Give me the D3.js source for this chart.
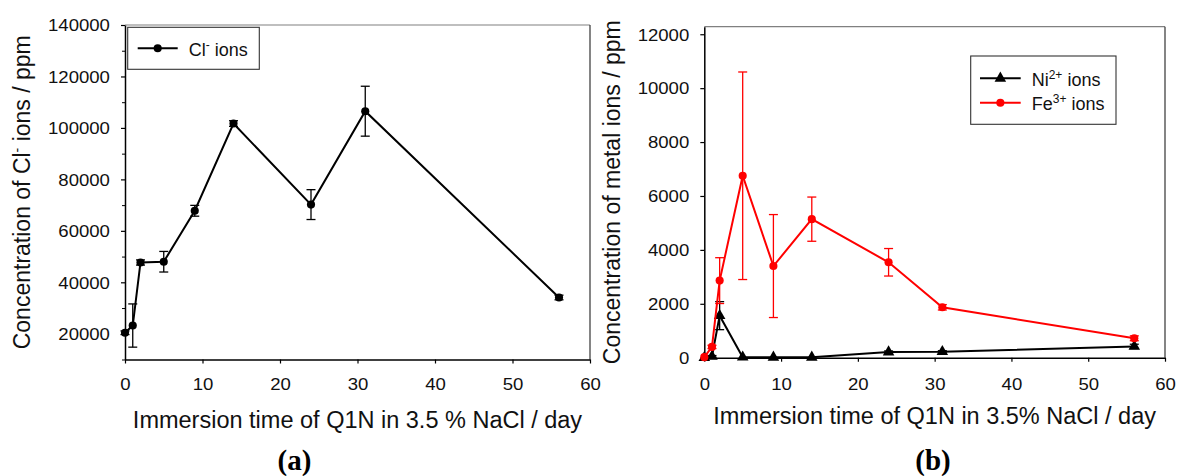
<!DOCTYPE html>
<html>
<head>
<meta charset="utf-8">
<script src="https://cdn.jsdelivr.net/npm/d3@7"></script>
<style>
  body { margin: 0; background: #fff; }
  svg { display: block; font-family: "Liberation Sans", Arial, sans-serif; }
</style>
</head>
<body>
<svg id="chart" width="1177" height="476"></svg>
<script>
// immersion days (shared by both panels)
const days = [0, 1, 2, 5, 9, 14, 24, 31, 56];

// (a) chloride ions, ppm
const clValues = [20400, 23200, 47700, 48000, 67800, 101700, 70200, 106500, 34100];
const clErrors = [700, 8400, 1000, 4000, 2100, 1100, 5800, 9700, 900];

// (b) metal ions, ppm
const niValues = [0, 50, 1560, 20, 15, 15, 210, 220, 420];
const niErrors = [0, 30, 520, 0, 0, 0, 40, 40, 80];
const feValues = [20, 400, 2860, 6750, 3400, 5140, 3540, 1870, 720];
const feErrors = [0, 60, 850, 3850, 1910, 820, 510, 100, 90];

const xTicks = [0, 10, 20, 30, 40, 50, 60];
const clTicks = [20000, 40000, 60000, 80000, 100000, 120000, 140000];
const clMinor = [10000, 30000, 50000, 70000, 90000, 110000, 130000];
const metalTicks = [0, 2000, 4000, 6000, 8000, 10000, 12000];

const svg = d3.select("#chart");
const STRETCH = 1.16; // tick labels in the source are a bit wide

const zip = (vals, errs) => days.map((d, i) => ({x: d, y: vals[i], e: errs[i]}));

function drawPanel(p) {
  let x = d3.scaleLinear().domain([0, 60]).range([p.left, p.right]),
      y = d3.scaleLinear().domain(p.yDomain).range([p.bottom, p.top]);

  let g = svg.append("g");

  // frame: top + right are light
  g.append("line").attr("x1", p.left).attr("x2", p.right).attr("y1", p.top).attr("y2", p.top)
    .attr("stroke", "#808080").attr("stroke-width", 1.2);
  g.append("line").attr("x1", p.right).attr("x2", p.right).attr("y1", p.top).attr("y2", p.bottom)
    .attr("stroke", "#333").attr("stroke-width", 1.2);

  // axes
  let xAxis = g.append("g")
    .attr("transform", `translate(0,${p.bottom})`)
    .call(d3.axisBottom(x).tickValues(xTicks).tickFormat(d3.format("d"))
      .tickSize(4).tickPadding(p.xPad).tickSizeOuter(0));
  let yAxis = g.append("g")
    .attr("transform", `translate(${p.left},0)`)
    .call(d3.axisLeft(y).tickValues(p.yTicks).tickFormat(d3.format("d"))
      .tickSize(4).tickPadding(9).tickSizeOuter(0));
  if (p.yMinor) {
    g.append("g")
      .attr("transform", `translate(${p.left},0)`)
      .call(d3.axisLeft(y).tickValues(p.yMinor).tickSize(3).tickFormat("").tickSizeOuter(0))
      .call(a => a.selectAll(".tick line").attr("stroke", "#000"))
      .select(".domain").remove();
  }
  [xAxis, yAxis].forEach(a => {
    a.select(".domain").attr("stroke", "#000").attr("stroke-width", 1.5);
    a.selectAll(".tick line").attr("stroke", "#000").attr("stroke-width", 1.2);
    a.selectAll(".tick text")
      .attr("font-size", 16)
      .attr("fill", "#111")
      .attr("font-family", "Liberation Sans, Arial, sans-serif")
      .attr("transform", `scale(${STRETCH},1)`);
  });
  yAxis.selectAll(".tick text").attr("dy", "0.36em");

  let line = d3.line().x(d => x(d.x)).y(d => y(d.y));

  p.series.forEach(s => {
    let data = zip(s.values, s.errors);

    // error bars
    let eb = g.append("g").attr("stroke", s.color).attr("stroke-width", 1.3);
    data.filter(d => d.e > 0).forEach(d => {
      let cx = x(d.x), y0 = y(d.y - d.e), y1 = y(d.y + d.e);
      eb.append("line").attr("x1", cx).attr("x2", cx).attr("y1", y0).attr("y2", y1);
      eb.append("line").attr("x1", cx - 4.5).attr("x2", cx + 4.5).attr("y1", y0).attr("y2", y0);
      eb.append("line").attr("x1", cx - 4.5).attr("x2", cx + 4.5).attr("y1", y1).attr("y2", y1);
    });

    g.append("path").datum(data)
      .attr("d", line)
      .attr("fill", "none")
      .attr("stroke", s.color)
      .attr("stroke-width", 2);

    let sym = d3.symbol().type(s.shape).size(s.shape === d3.symbolCircle ? 52 : 58);
    g.selectAll(null).data(data).enter().append("path")
      .attr("d", sym)
      .attr("transform", d => `translate(${x(d.x)},${y(d.y)})`)
      .attr("fill", s.color);
  });

  // axis titles
  let yt = g.append("text")
    .attr("transform", `translate(${p.yTitleX},${(p.top + p.bottom) / 2}) rotate(-90)`)
    .attr("text-anchor", "middle")
    .attr("font-size", 23)
    .attr("fill", "#111");
  p.yTitle.forEach(part => {
    let t = yt.append("tspan").text(part.t);
    if (part.sup) t.attr("font-size", 14).attr("baseline-shift", "super");
  });

  g.append("text")
    .attr("x", (p.left + p.right) / 2)
    .attr("y", p.xTitleY)
    .attr("text-anchor", "middle")
    .attr("font-size", 23.5)
    .attr("fill", "#111")
    .text(p.xTitle);

  g.append("text")
    .attr("x", p.labelX)
    .attr("y", 470)
    .attr("text-anchor", "middle")
    .attr("font-family", "Liberation Serif, Times New Roman, serif")
    .attr("font-weight", "bold")
    .attr("font-size", 29)
    .text(p.label);

  // legend
  let lg = p.legend;
  g.append("rect")
    .attr("x", lg.x).attr("y", lg.y).attr("width", lg.w).attr("height", lg.h)
    .attr("fill", "#fff").attr("stroke", "#333").attr("stroke-width", 1.1);
  p.series.forEach((s, i) => {
    let ly = lg.y + lg.first + i * lg.step;
    g.append("line")
      .attr("x1", lg.x + lg.lineX0).attr("x2", lg.x + lg.lineX1)
      .attr("y1", ly).attr("y2", ly)
      .attr("stroke", s.color).attr("stroke-width", 2);
    g.append("path")
      .attr("d", d3.symbol().type(s.shape).size(s.shape === d3.symbolCircle ? 52 : 58))
      .attr("transform", `translate(${lg.x + (lg.lineX0 + lg.lineX1) / 2},${ly})`)
      .attr("fill", s.color);
    let t = g.append("text")
      .attr("x", lg.x + lg.textX)
      .attr("y", ly + 7.5)
      .attr("font-size", 18)
      .attr("fill", "#111");
    s.label.forEach(part => {
      let ts = t.append("tspan").text(part.t);
      if (part.sup) ts.attr("font-size", 12).attr("baseline-shift", "super");
    });
  });
}

drawPanel({
  left: 125, right: 590, top: 25, bottom: 359.5,
  yDomain: [10000, 140000], yTicks: clTicks, yMinor: clMinor,
  xPad: 15,
  yTitleX: 30,
  yTitle: [{t: "Concentration of Cl"}, {t: "-", sup: true}, {t: " ions / ppm"}],
  xTitle: "Immersion time of Q1N in 3.5 % NaCl / day", xTitleY: 428,
  label: "(a)", labelX: 294.5,
  legend: {x: 127.7, y: 27.3, w: 131.6, h: 42, first: 21, step: 0, lineX0: 10, lineX1: 50, textX: 61},
  series: [
    {values: clValues, errors: clErrors, color: "#000", shape: d3.symbolCircle,
     label: [{t: "Cl"}, {t: "-", sup: true}, {t: " ions"}]}
  ]
});

drawPanel({
  left: 704.3, right: 1165, top: 26.7, bottom: 357.7,
  yDomain: [0, 12280], yTicks: metalTicks, yMinor: null,
  xPad: 17,
  yTitleX: 620,
  yTitle: [{t: "Concentration of metal ions / ppm"}],
  xTitle: "Immersion time of Q1N in 3.5% NaCl / day", xTitleY: 424,
  label: "(b)", labelX: 933,
  legend: {x: 970.7, y: 56, w: 145.3, h: 68.3, first: 22.3, step: 24.4, lineX0: 9.3, lineX1: 50, textX: 61},
  series: [
    {values: niValues, errors: niErrors, color: "#000", shape: d3.symbolTriangle,
     label: [{t: "Ni"}, {t: "2+", sup: true}, {t: " ions"}]},
    {values: feValues, errors: feErrors, color: "#ff0000", shape: d3.symbolCircle,
     label: [{t: "Fe"}, {t: "3+", sup: true}, {t: " ions"}]}
  ]
});
</script>
</body>
</html>
